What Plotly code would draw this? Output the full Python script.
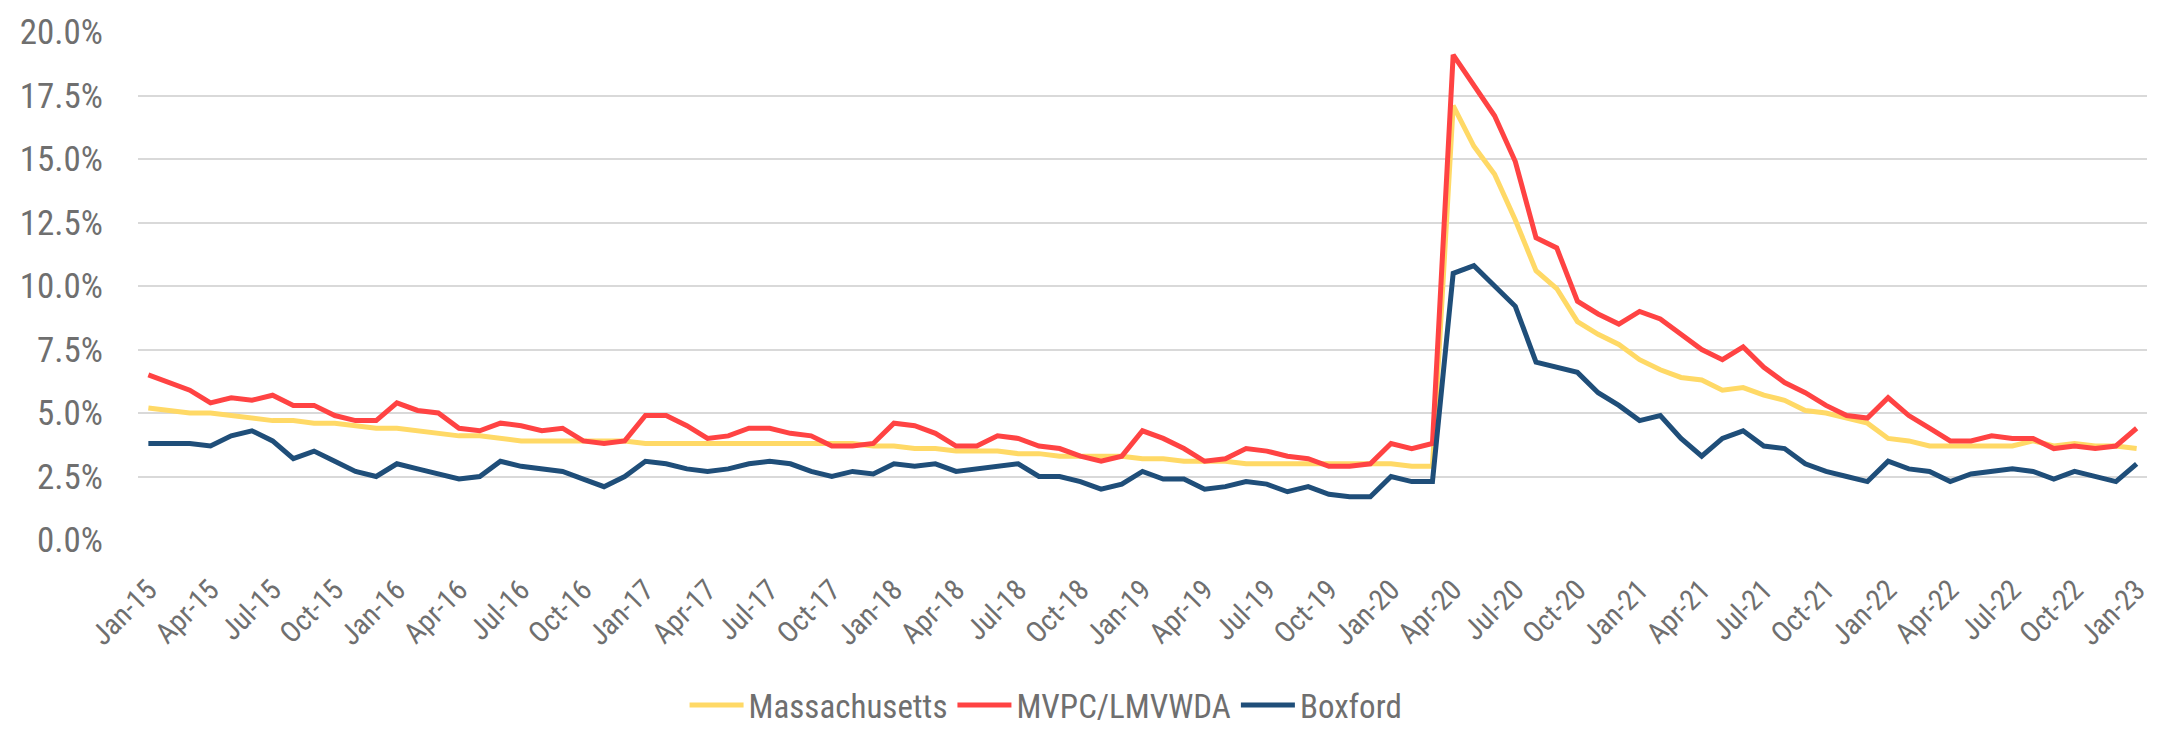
import plotly.graph_objects as go

# Monthly unemployment rate (%), Jan-2015 through Jan-2023
years = list(range(15, 24))
month_names = ["Jan", "Feb", "Mar", "Apr", "May", "Jun",
               "Jul", "Aug", "Sep", "Oct", "Nov", "Dec"]
months = [f"{m}-{y}" for y in years for m in month_names][:97]

massachusetts = [
    5.2, 5.1, 5.0, 5.0, 4.9, 4.8, 4.7, 4.7, 4.6, 4.6, 4.5, 4.4,
    4.4, 4.3, 4.2, 4.1, 4.1, 4.0, 3.9, 3.9, 3.9, 3.9, 3.9, 3.9,
    3.8, 3.8, 3.8, 3.8, 3.8, 3.8, 3.8, 3.8, 3.8, 3.8, 3.8, 3.7,
    3.7, 3.6, 3.6, 3.5, 3.5, 3.5, 3.4, 3.4, 3.3, 3.3, 3.3, 3.3,
    3.2, 3.2, 3.1, 3.1, 3.1, 3.0, 3.0, 3.0, 3.0, 3.0, 3.0, 3.0,
    3.0, 2.9, 2.9, 17.1, 15.5, 14.4, 12.6, 10.6, 9.9, 8.6, 8.1, 7.7,
    7.1, 6.7, 6.4, 6.3, 5.9, 6.0, 5.7, 5.5, 5.1, 5.0, 4.8, 4.6,
    4.0, 3.9, 3.7, 3.7, 3.7, 3.7, 3.7, 3.9, 3.7, 3.8, 3.7, 3.7,
    3.6,
]

mvpc_lmvwda = [
    6.5, 6.2, 5.9, 5.4, 5.6, 5.5, 5.7, 5.3, 5.3, 4.9, 4.7, 4.7,
    5.4, 5.1, 5.0, 4.4, 4.3, 4.6, 4.5, 4.3, 4.4, 3.9, 3.8, 3.9,
    4.9, 4.9, 4.5, 4.0, 4.1, 4.4, 4.4, 4.2, 4.1, 3.7, 3.7, 3.8,
    4.6, 4.5, 4.2, 3.7, 3.7, 4.1, 4.0, 3.7, 3.6, 3.3, 3.1, 3.3,
    4.3, 4.0, 3.6, 3.1, 3.2, 3.6, 3.5, 3.3, 3.2, 2.9, 2.9, 3.0,
    3.8, 3.6, 3.8, 19.1, 17.9, 16.7, 14.9, 11.9, 11.5, 9.4, 8.9, 8.5,
    9.0, 8.7, 8.1, 7.5, 7.1, 7.6, 6.8, 6.2, 5.8, 5.3, 4.9, 4.8,
    5.6, 4.9, 4.4, 3.9, 3.9, 4.1, 4.0, 4.0, 3.6, 3.7, 3.6, 3.7,
    4.4,
]

boxford = [
    3.8, 3.8, 3.8, 3.7, 4.1, 4.3, 3.9, 3.2, 3.5, 3.1, 2.7, 2.5,
    3.0, 2.8, 2.6, 2.4, 2.5, 3.1, 2.9, 2.8, 2.7, 2.4, 2.1, 2.5,
    3.1, 3.0, 2.8, 2.7, 2.8, 3.0, 3.1, 3.0, 2.7, 2.5, 2.7, 2.6,
    3.0, 2.9, 3.0, 2.7, 2.8, 2.9, 3.0, 2.5, 2.5, 2.3, 2.0, 2.2,
    2.7, 2.4, 2.4, 2.0, 2.1, 2.3, 2.2, 1.9, 2.1, 1.8, 1.7, 1.7,
    2.5, 2.3, 2.3, 10.5, 10.8, 10.0, 9.2, 7.0, 6.8, 6.6, 5.8, 5.3,
    4.7, 4.9, 4.0, 3.3, 4.0, 4.3, 3.7, 3.6, 3.0, 2.7, 2.5, 2.3,
    3.1, 2.8, 2.7, 2.3, 2.6, 2.7, 2.8, 2.7, 2.4, 2.7, 2.5, 2.3,
    3.0,
]

series = [
    ("Massachusetts", massachusetts, "#FFD966"),
    ("MVPC/LMVWDA", mvpc_lmvwda, "#FF4343"),
    ("Boxford", boxford, "#1F4E79"),
]

tick_labels = months[::3]

FONT = "'Roboto Condensed', Roboto, sans-serif"
GREY = "#6f6f6f"

fig = go.Figure()
for name, values, color in series:
    fig.add_trace(go.Scatter(
        x=months, y=values, name=name, mode="lines",
        line=dict(color=color, width=5),
        hoverinfo="x+y+name",
    ))

fig.update_layout(
    width=2164, height=745,
    margin=dict(l=138, r=14, t=23, b=190),
    paper_bgcolor="white", plot_bgcolor="white",
    font=dict(family=FONT, color=GREY),
    showlegend=True,
    legend=dict(
        orientation="h", x=0.452, xanchor="center", y=-0.325, yanchor="middle",
        font=dict(size=33, color=GREY), itemwidth=54,
        bgcolor="rgba(0,0,0,0)",
    ),
    xaxis=dict(
        type="category", range=[-0.5, 96.5],
        tickmode="array", tickvals=tick_labels, ticktext=tick_labels,
        tickangle=-45, tickfont=dict(size=29, color=GREY),
        showgrid=False, showline=False, zeroline=False, ticks="",
        ticklabelstandoff=26,
    ),
    yaxis=dict(
        range=[0, 20], dtick=2.5, tick0=0,
        tickformat=".1f", ticksuffix="%",
        tickfont=dict(size=35, color=GREY),
        showgrid=True, gridcolor="#d9d9d9", gridwidth=2,
        zeroline=False, showline=False, ticks="",
        ticklabelstandoff=34,
    ),
)

fig.write_html("out.html")
